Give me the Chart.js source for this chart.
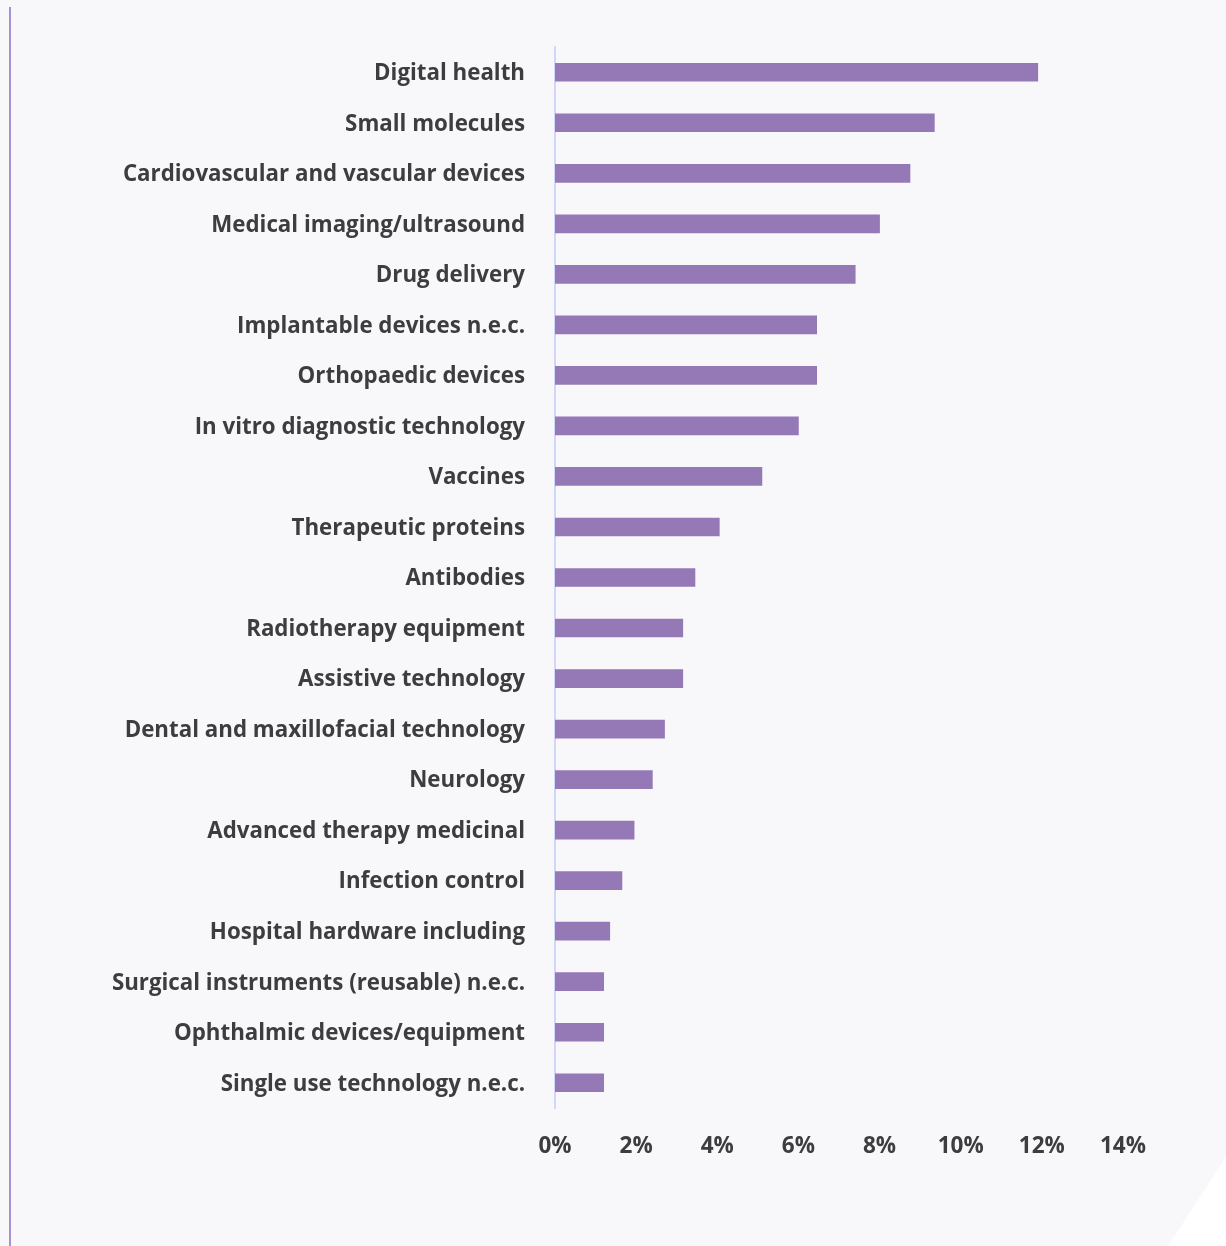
<!DOCTYPE html>
<html>
<head>
<meta charset="utf-8">
<script src="https://cdn.jsdelivr.net/npm/chart.js@4/dist/chart.umd.min.js"></script>
<style>
  html, body { margin: 0; padding: 0; background: #ffffff; }
  #wrap { width: 1226px; height: 1246px; position: relative; }
</style>
</head>
<body>
<div id="wrap"><canvas id="c" width="1226" height="1246"></canvas></div>
<script>
// Share of companies by technology area (%)
const categories = [
  'Digital health',
  'Small molecules',
  'Cardiovascular and vascular devices',
  'Medical imaging/ultrasound',
  'Drug delivery',
  'Implantable devices n.e.c.',
  'Orthopaedic devices',
  'In vitro diagnostic technology',
  'Vaccines',
  'Therapeutic proteins',
  'Antibodies',
  'Radiotherapy equipment',
  'Assistive technology',
  'Dental and maxillofacial technology',
  'Neurology',
  'Advanced therapy medicinal',
  'Infection control',
  'Hospital hardware including',
  'Surgical instruments (reusable) n.e.c.',
  'Ophthalmic devices/equipment',
  'Single use technology n.e.c.'
];
const shares = [11.9, 9.35, 8.75, 8.0, 7.4, 6.45, 6.45, 6.0, 5.1, 4.05, 3.45, 3.15, 3.15, 2.7, 2.4, 1.95, 1.65, 1.35, 1.2, 1.2, 1.2];
const tickValues = [0, 2, 4, 6, 8, 10, 12, 14];

const FONT = '"Open Sans", Lato, sans-serif';

// Panel background with a clipped lower-right corner and a purple rule on the left
const panelBackground = {
  id: 'panelBackground',
  beforeDraw(chart) {
    const ctx = chart.ctx;
    const w = chart.width, h = chart.height;
    ctx.save();
    ctx.fillStyle = '#ffffff';
    ctx.fillRect(0, 0, w, h);
    ctx.fillStyle = '#f8f8fa';
    ctx.beginPath();
    ctx.moveTo(0, 0);
    ctx.lineTo(w, 0);
    ctx.lineTo(w, 1157);
    ctx.lineTo(1168, h);
    ctx.lineTo(0, h);
    ctx.closePath();
    ctx.fill();
    ctx.strokeStyle = '#a791d0';
    ctx.lineWidth = 2;
    ctx.beginPath();
    ctx.moveTo(10, 7);
    ctx.lineTo(10, h);
    ctx.stroke();
    ctx.restore();
  }
};

new Chart(document.getElementById('c'), {
  type: 'bar',
  data: {
    labels: categories,
    datasets: [{
      data: shares,
      backgroundColor: '#9579b7',
      borderWidth: 0,
      barThickness: 18
    }]
  },
  options: {
    indexAxis: 'y',
    responsive: false,
    animation: false,
    layout: { padding: { top: 47, right: 103, bottom: 0, left: 0 } },
    plugins: {
      legend: { display: false },
      tooltip: { enabled: false }
    },
    scales: {
      x: {
        min: 0,
        max: 14,
        afterBuildTicks(scale) {
          scale.ticks = tickValues.map(v => ({ value: v }));
        },
        afterFit(scale) { scale.height = 138; },
        grid: { display: false, drawTicks: false },
        border: { display: false },
        ticks: {
          padding: 25,
          color: '#3d3d40',
          font: { family: FONT, size: 22.5, weight: 'bold' },
          callback: v => v + '%'
        }
      },
      y: {
        afterFit(scale) { scale.width = 555; },
        grid: { display: false, drawTicks: false },
        border: { display: true, color: '#d0d7fa', width: 2 },
        ticks: {
          padding: 30,
          labelOffset: 1.5,
          color: '#3d3d40',
          font: { family: FONT, size: 22.3, weight: 'bold' }
        }
      }
    }
  },
  plugins: [panelBackground]
});
</script>
</body>
</html>
